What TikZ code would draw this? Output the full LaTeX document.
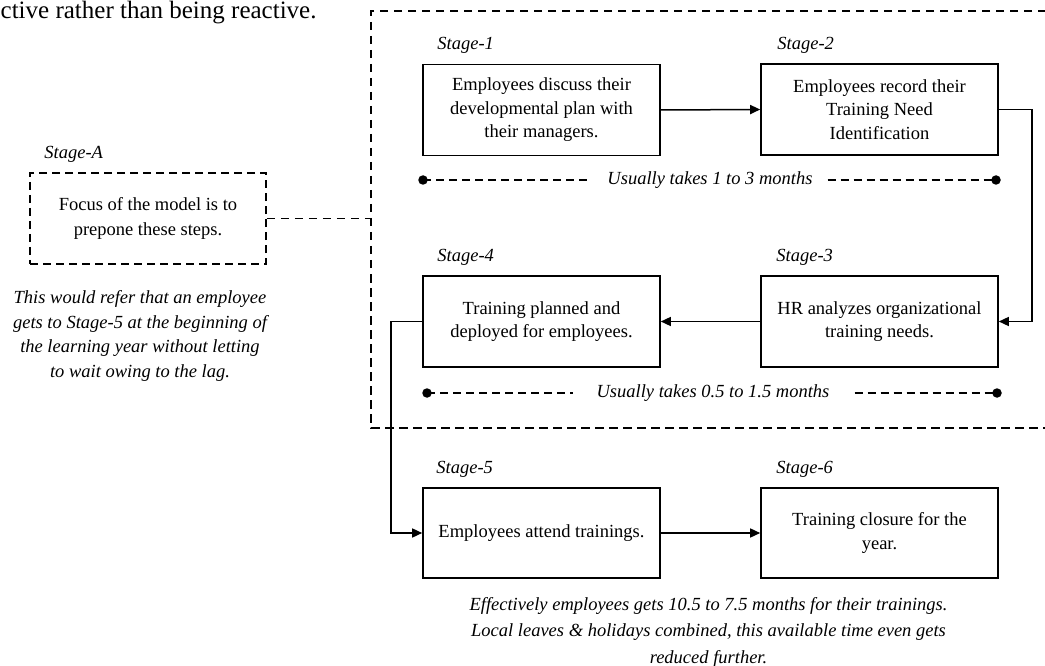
\documentclass[tikz,border=0pt]{standalone}
\usepackage{fontspec}
\setmainfont{Liberation Serif}
\usetikzlibrary{arrows.meta}
\begin{document}
\begin{tikzpicture}[x=1pt,y=-1pt,
  box/.style={draw, line width=1.6pt, minimum width=237pt, minimum height=91pt, inner sep=0pt, align=center, font=\fontsize{18.5}{23.5}\selectfont},
  dbox/.style={box, dashed, dash pattern=on 8pt off 5pt, line width=1.6pt, minimum width=236pt, font=\fontsize{18.5}{24.5}\selectfont},
  lbl/.style={anchor=base west, inner sep=0pt, font=\fontsize{18.5}{22}\selectfont\itshape},
  note/.style={inner sep=0pt, align=center, font=\fontsize{18.5}{22}\selectfont\itshape},
  dot/.style={circle, fill, inner sep=0pt, minimum size=9.5pt},
  mdash/.style={line width=1.5pt, dash pattern=on 8pt off 5pt},
  bdash/.style={line width=1.6pt, dash pattern=on 8.5pt off 5.5pt},
  conn/.style={line width=1.5pt, -{Triangle[length=10pt,width=9pt]}}]
\useasboundingbox (0,0) rectangle (1045,666);
\clip (0,0) rectangle (1045,666);
\fill[white] (0,0) rectangle (1045,666);

% text at the top edge
\node[anchor=base west, inner sep=0pt, font=\fontsize{25}{30}\selectfont] (toptext) at (0.5,18.5) {ctive rather than being reactive.};

% outer dashed frame
\draw[bdash] (1060,11) -- (371,11) -- (371,428) -- (1060,428);

% stage boxes
\node[box] (s1) at (541.5,110) {Employees discuss their\\developmental plan with\\their managers.};
\node[box] (s2) at (879.5,109.5) {Employees record their\\Training Need\\Identification};
\node[box] (s3) at (879.5,321.5) {HR analyzes organizational\\training needs.};
\node[box] (s4) at (541.5,321.5) {Training planned and\\deployed for employees.};
\node[box, minimum height=90pt] (s5) at (541.5,533) {Employees attend trainings.};
\node[box, minimum height=90pt] (s6) at (879.5,533) {Training closure for the\\year.};

\node[lbl] (l1) at ([shift={(15,-14)}]s1.north west) {Stage-1};
\node[lbl] (l2) at ([shift={(17,-14)}]s2.north west) {Stage-2};
\node[lbl] (l3) at ([shift={(16,-14)}]s3.north west) {Stage-3};
\node[lbl] (l4) at ([shift={(15,-14)}]s4.north west) {Stage-4};
\node[lbl] (l5) at ([shift={(14,-14)}]s5.north west) {Stage-5};
\node[lbl] (l6) at ([shift={(16,-14)}]s6.north west) {Stage-6};

% connectors
\draw[conn] (s1.east) -- (s2.west);
\draw[conn] (s2.east) -- ++(33,0) |- (s3.east);
\draw[conn] (s3.west) -- (s4.east);
\draw[conn] (s4.west) -- ++(-31,0) |- (s5.west);
\draw[conn] (s5.east) -- (s6.west);

% duration lines
\node[dot] (m1a) at (423,180) {};
\node[dot] (m1b) at (996,180) {};
\node[note] (m1t) at (710,180) {Usually takes 1 to 3 months};
\draw[mdash] (m1a.center) -- ([xshift=-17pt]m1t.west);
\draw[mdash] ([xshift=15pt]m1t.east) -- (m1b.center);

\node[dot] (m2a) at (427,393) {};
\node[dot] (m2b) at (997,393) {};
\node[note] (m2t) at (713,393) {Usually takes 0.5 to 1.5 months};
\draw[mdash] (m2a.center) -- ([xshift=-23pt]m2t.west);
\draw[mdash] ([xshift=25pt]m2t.east) -- (m2b.center);

% stage A
\node[dbox] (sa) at (148,218.5) {Focus of the model is to\\prepone these steps.};
\node[lbl] (la) at ([shift={(15,-14)}]sa.north west) {Stage-A};
\coordinate (bj) at (371,218.5);
\draw[bdash] (sa.east) -- (bj);

\node[note, font=\fontsize{18.5}{24.5}\selectfont\itshape] (na) at (140,336) {This would refer that an employee\\gets to Stage-5 at the beginning of\\the learning year without letting\\to wait owing to the lag.};

\node[note, font=\fontsize{18.5}{26.5}\selectfont\itshape] (nb) at (708.5,632) {Effectively employees gets 10.5 to 7.5 months for their trainings.\\Local leaves \& holidays combined, this available time even gets\\reduced further.};
\end{tikzpicture}
\end{document}
